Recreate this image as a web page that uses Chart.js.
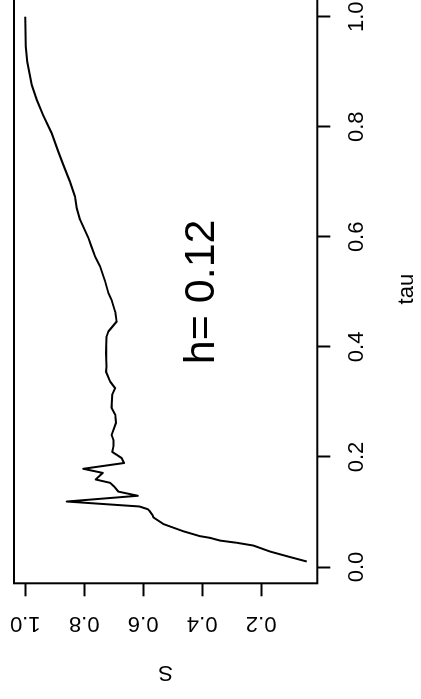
<!DOCTYPE html>
<html><head><meta charset="utf-8">
<script src="https://cdn.jsdelivr.net/npm/chart.js@4/dist/chart.umd.min.js"></script>
<style>
html,body{margin:0;padding:0;width:421px;height:699px;overflow:hidden;background:#fff;}
#wrap{position:absolute;left:0;top:0;width:730px;height:421px;transform-origin:0 0;transform:translate(0,699px) rotate(-90deg);}
canvas{display:block;}
</style></head><body>
<div id="wrap"><canvas id="c" width="730" height="421"></canvas></div>
<script>
// Data (tau on x, S on y of the unrotated plot)
const tau = [0.010,0.018,0.028,0.039,0.044,0.048,0.053,0.056,0.065,0.078,0.090,0.094,0.101,0.105,0.110,0.119,0.1295,0.137,0.146,0.153,0.159,0.171,0.1785,0.189,0.198,0.204,0.209,0.219,0.231,0.240,0.262,0.277,0.289,0.313,0.325,0.337,0.355,0.364,0.389,0.419,0.428,0.446,0.464,0.485,0.498,0.519,0.546,0.564,0.582,0.598,0.631,0.652,0.673,0.700,0.731,0.755,0.788,0.821,0.849,0.876,0.918,0.946,1.000];
const S   = [0.045,0.101,0.169,0.226,0.282,0.339,0.373,0.407,0.464,0.531,0.565,0.568,0.577,0.584,0.613,0.859,0.618,0.684,0.698,0.712,0.761,0.737,0.803,0.665,0.673,0.690,0.705,0.701,0.701,0.707,0.692,0.695,0.707,0.705,0.695,0.712,0.726,0.724,0.726,0.724,0.718,0.690,0.695,0.707,0.718,0.729,0.746,0.763,0.775,0.786,0.814,0.825,0.831,0.848,0.871,0.888,0.910,0.939,0.961,0.978,0.993,0.998,1.000];
const tauTicks = [0.0,0.2,0.4,0.6,0.8,1.0];
const sTicks = [0.2,0.4,0.6,0.8,1.0];
const xTitle = 'tau';
const yTitle = 'S';
const note = 'h= 0.12';
const noteAt = {tau: 0.5, S: 0.4};

const FONT = 'Liberation Sans, Arial, Helvetica, sans-serif';
const LW = 2;

const boxPlugin = {
  id: 'rbox',
  afterDraw(chart) {
    const {ctx, chartArea: a, scales} = chart;
    ctx.save();
    ctx.strokeStyle = '#000';
    ctx.lineWidth = LW;
    ctx.strokeRect(a.left, a.top, a.right - a.left, a.bottom - a.top);
    const px = scales.x.getPixelForValue(noteAt.tau);
    const py = scales.y.getPixelForValue(noteAt.S);
    ctx.fillStyle = '#000';
    ctx.font = '43px ' + FONT;
    ctx.textAlign = 'center';
    ctx.textBaseline = 'middle';
    ctx.fillText(note, px, py);
    ctx.restore();
  }
};

new Chart(document.getElementById('c'), {
  type: 'line',
  data: {
    datasets: [{
      data: tau.map((t, i) => ({x: t, y: S[i]})),
      borderColor: '#000',
      borderWidth: LW,
      borderJoinStyle: 'round',
      pointRadius: 0,
      tension: 0,
      fill: false
    }]
  },
  options: {
    responsive: false,
    animation: false,
    devicePixelRatio: 1,
    layout: {padding: {left: 0, top: 14, right: 25.9, bottom: 0}},
    plugins: {legend: {display: false}, tooltip: {enabled: false}},
    scales: {
      x: {
        type: 'linear', position: 'bottom', min: -0.0296, max: 1.0396,
        afterBuildTicks: s => { s.ticks = tauTicks.map(v => ({value: v})); },
        afterFit: s => { s.height = 103.7; s.paddingLeft = 0; s.paddingRight = 0; },
        border: {display: false},
        grid: {display: true, drawOnChartArea: false, drawTicks: true, tickLength: 13, tickWidth: LW, tickColor: '#000'},
        ticks: {autoSkip: false, maxRotation: 0, minRotation: 0, padding: 13, color: '#000',
                font: {family: FONT, size: 22}, callback: v => v.toFixed(1)},
        title: {display: true, text: xTitle, color: '#000', font: {family: FONT, size: 22}, padding: {top: 0, bottom: 0.5}}
      },
      y: {
        type: 'linear', position: 'left', min: 0.0095, max: 1.038,
        afterBuildTicks: s => { s.ticks = sTicks.map(v => ({value: v})); },
        afterFit: s => { s.width = 115.7; s.paddingTop = 0; s.paddingBottom = 0; },
        border: {display: false},
        grid: {display: true, drawOnChartArea: false, drawTicks: true, tickLength: 13, tickWidth: LW, tickColor: '#000'},
        ticks: {autoSkip: false, minRotation: 90, maxRotation: 90, crossAlign: 'center', padding: 11.2, color: '#000',
                font: {family: FONT, size: 22}, callback: v => v.toFixed(1)},
        title: {display: true, text: yTitle, color: '#000', font: {family: FONT, size: 22}, padding: {top: 13.3, bottom: 0}}
      }
    }
  },
  plugins: [boxPlugin]
});
</script>
</body></html>
